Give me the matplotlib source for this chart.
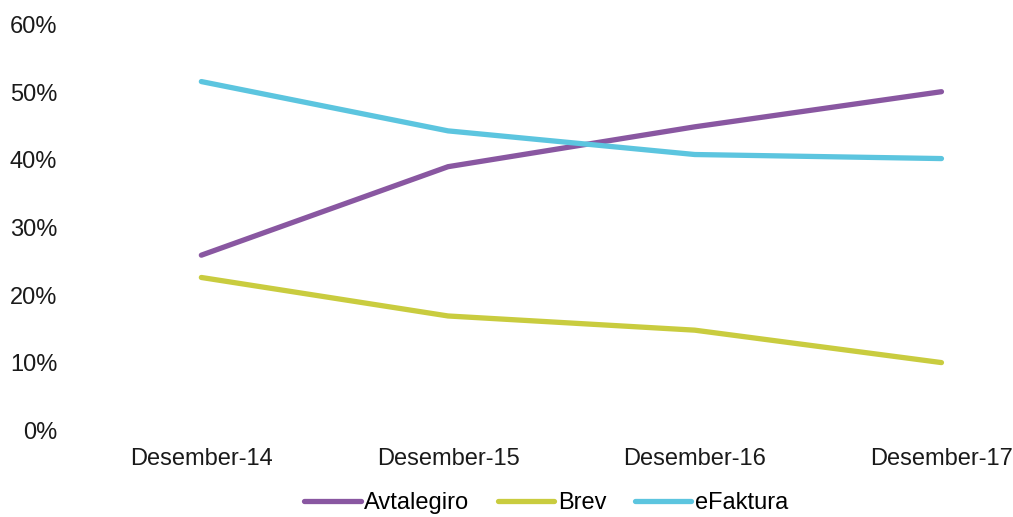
import matplotlib
matplotlib.use("Agg")
import matplotlib.pyplot as plt
from matplotlib.ticker import PercentFormatter

plt.rcParams['font.family'] = ['Liberation Sans', 'DejaVu Sans']

categories = ["Desember-14", "Desember-15", "Desember-16", "Desember-17"]
avtalegiro = [25.9, 39.0, 44.9, 50.1]
brev = [22.6, 16.9, 14.8, 10.0]
efaktura = [51.6, 44.3, 40.8, 40.2]

series = [
    ("Avtalegiro", avtalegiro, "#8957a1"),
    ("Brev", brev, "#c9cc3f"),
    ("eFaktura", efaktura, "#5cc5df"),
]

fig = plt.figure(figsize=(10.13, 5.17), dpi=100)
ax = fig.add_axes([0.077, 0.168, 0.923, 0.784])

x = list(range(len(categories)))
for name, vals, color in series:
    ax.plot(x, vals, color=color, linewidth=3.8, solid_capstyle="round", label=name)

ax.set_xlim(-0.5, 3.29)
ax.set_ylim(0, 60)
ax.set_yticks(range(0, 61, 10))
ax.yaxis.set_major_formatter(PercentFormatter(decimals=0))
ax.set_xticks(x)
ax.set_xticklabels(categories)
ax.tick_params(axis="both", length=0, labelsize=17, colors="#1a1a1a")
ax.tick_params(axis="y", pad=15)
ax.tick_params(axis="x", pad=13)
for s in ax.spines.values():
    s.set_visible(False)

fig.legend(loc="center", bbox_to_anchor=(0.539, 0.027), ncol=3, frameon=False,
           fontsize=17, handlelength=2.4, columnspacing=1.2, handletextpad=0.15,
           borderpad=0.1)

fig.savefig("out.png", dpi=100)
